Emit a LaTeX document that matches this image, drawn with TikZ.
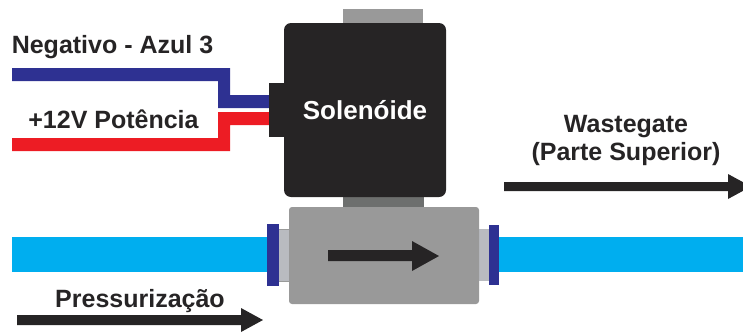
\documentclass[tikz,border=0pt]{standalone}
\usepackage{fontspec}
\setmainfont{Liberation Sans}
\definecolor{blk}{HTML}{262425}
\definecolor{wblue}{HTML}{2E3192}
\definecolor{wred}{HTML}{ED1C24}
\definecolor{pipe}{HTML}{00AEEF}
\definecolor{valve}{HTML}{999999}
\definecolor{lgrey}{HTML}{B9BBC0}
\definecolor{neck}{HTML}{6D6F6E}
\tikzset{
  lbl/.style={font=\bfseries\fontsize{25}{28}\selectfont, text=#1, inner sep=0pt, align=center},
  lbl/.default=blk,
  bigarrow/.style={fill=blk, draw=none}
}
\begin{document}
\begin{tikzpicture}[x=1pt,y=-1pt]
\useasboundingbox (0,0) rectangle (743,335);
% pipes
\fill[pipe] (12,237) rectangle (268,272);
\fill[pipe] (499,237) rectangle (743,272);
% top stub and neck
\fill[valve] (343,9) rectangle (423,24);
\fill[neck] (343,196) rectangle (424,208);
% wires
\fill[wblue] (12,68) -| (230,95) -- (270,95) |- (218,108) |- (12,81) -- cycle;
\fill[wred] (12,138) -- (218,138) |- (270,112) |- (230,125) |- (12,151) -- cycle;
% solenoid
\fill[blk,rounded corners=7pt] (284,23) rectangle (446,197);
\fill[blk] (269,83) rectangle (286,137);
% connectors
\fill[lgrey,draw=neck!70,line width=.8pt] (278,229) rectangle (291,281);
\fill[lgrey] (478,229) rectangle (490,281);
\fill[wblue] (267,224) rectangle (279,286);
\fill[wblue] (489,225) rectangle (499,285);
% valve
\fill[valve,rounded corners=3pt] (289,207) rectangle (479,304);
% arrows
\fill[bigarrow] (328,250) -- (412,250) -- (412,241) -- (439,256) -- (412,271) -- (412,261) -- (328,261) -- cycle;
\fill[bigarrow] (17,315) -- (241,315) -- (241,308) -- (263,320) -- (241,332) -- (241,325) -- (17,325) -- cycle;
\fill[bigarrow] (504,182) -- (728,182) -- (728,174) -- (751,186.5) -- (728,199) -- (728,191) -- (504,191) -- cycle;
% labels
\node[lbl,anchor=center] (neg) at (112.5,47) {Negativo - Azul 3};
\node[lbl,anchor=center] (pos) at (113.5,119) {+12V Potência};
\node[lbl=white,anchor=center,font=\bfseries\fontsize{26}{28}\selectfont] (sol) at (365,110) {Solenóide};
\node[lbl,anchor=center] (wg) at (626,140) {Wastegate\\(Parte Superior)};
\node[lbl,anchor=center] (pr) at (140,301) {Pressurização};
\end{tikzpicture}
\end{document}
